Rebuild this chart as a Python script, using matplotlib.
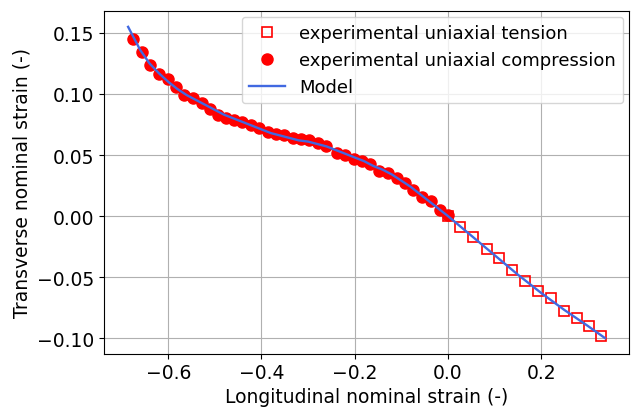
import matplotlib
matplotlib.use("Agg")
import matplotlib.pyplot as plt

# Experimental uniaxial tension
tension_x = [0.000, 0.0262, 0.0546, 0.083, 0.110, 0.138, 0.166, 0.194, 0.222,
             0.250, 0.276, 0.302, 0.329]
tension_y = [0.000, -0.0087, -0.0168, -0.027, -0.0346, -0.0443, -0.0534,
             -0.0615, -0.0674, -0.0775, -0.0834, -0.0898, -0.0985]

# Experimental uniaxial compression
comp_x = [-0.676, -0.656, -0.638, -0.619, -0.601, -0.584, -0.566, -0.547,
          -0.528, -0.511, -0.493, -0.477, -0.459, -0.441, -0.423, -0.405,
          -0.387, -0.369, -0.351, -0.333, -0.315, -0.297, -0.279, -0.262,
          -0.238, -0.220, -0.202, -0.184, -0.167, -0.147, -0.129, -0.110,
          -0.092, -0.074, -0.055, -0.037, -0.018, 0.000]
comp_y = [0.145, 0.134, 0.124, 0.116, 0.112, 0.106, 0.099, 0.097,
          0.093, 0.088, 0.083, 0.080, 0.079, 0.077, 0.075, 0.072,
          0.069, 0.067, 0.066, 0.064, 0.063, 0.062, 0.060, 0.057,
          0.052, 0.050, 0.047, 0.045, 0.043, 0.037, 0.035, 0.031,
          0.027, 0.021, 0.016, 0.012, 0.005, 0.001]

# Model curve
model_x = [-0.686, -0.66, -0.64, -0.62, -0.60, -0.58, -0.56, -0.54, -0.52,
           -0.50, -0.48, -0.46, -0.44, -0.42, -0.40, -0.38, -0.36, -0.34,
           -0.32, -0.30, -0.28, -0.26, -0.24, -0.22, -0.20, -0.18, -0.16,
           -0.14, -0.12, -0.10, -0.08, -0.06, -0.04, -0.02, 0.00,
           0.05, 0.10, 0.15, 0.20, 0.25, 0.30, 0.337]
model_y = [0.155, 0.136, 0.125, 0.117, 0.110, 0.104, 0.099, 0.095, 0.091,
           0.087, 0.083, 0.080, 0.077, 0.074, 0.071, 0.068, 0.066, 0.064,
           0.062, 0.061, 0.059, 0.057, 0.054, 0.051, 0.048, 0.045, 0.041,
           0.038, 0.034, 0.029, 0.024, 0.018, 0.012, 0.006, 0.000,
           -0.016, -0.032, -0.048, -0.063, -0.077, -0.090, -0.100]

fig, ax = plt.subplots(figsize=(6.32, 4.10), dpi=100)
ax.plot(tension_x, tension_y, 's', mfc='none', mec='red', ms=7.2, mew=1.2,
        label='experimental uniaxial tension')
ax.plot(comp_x, comp_y, 'o', color='red', ms=8,
        label='experimental uniaxial compression')
ax.plot(model_x, model_y, '-', color='royalblue', lw=1.7, label='Model')

ax.set_xlabel('Longitudinal nominal strain (-)', fontsize=13.5, labelpad=3)
ax.set_ylabel('Transverse nominal strain (-)', fontsize=13.5)
ax.tick_params(labelsize=13.5)
ax.set_xticks([-0.6, -0.4, -0.2, 0.0, 0.2])
ax.set_yticks([-0.10, -0.05, 0.00, 0.05, 0.10, 0.15])
ax.grid(True)
ax.legend(loc='upper right', fontsize=13, borderaxespad=0.3)
fig.subplots_adjust(left=0.165, right=0.995, top=0.97, bottom=0.135)
fig.savefig('out.png', dpi=100)
